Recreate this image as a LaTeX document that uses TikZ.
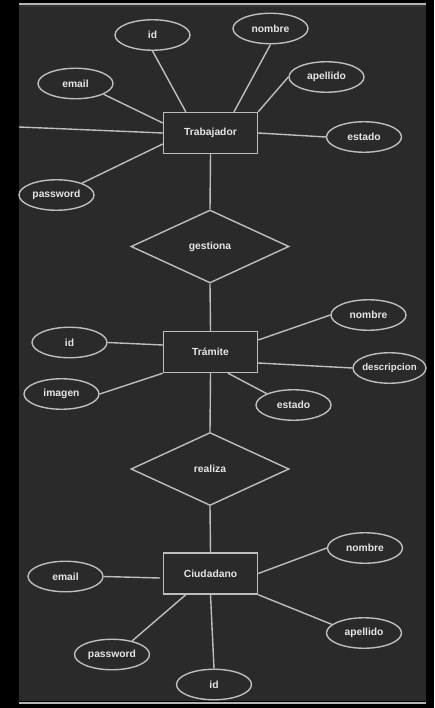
\documentclass[tikz,border=0pt]{standalone}
\usepackage{fontspec}
\setmainfont{Liberation Sans}
\usetikzlibrary{shapes.geometric,calc}
\definecolor{panel}{HTML}{2A2A2A}
\definecolor{edge}{HTML}{BEBEBE}
\definecolor{txt}{HTML}{E6E6E6}
\definecolor{rim}{HTML}{B4B4B4}
\begin{document}
\begin{tikzpicture}[x=1pt,y=-1pt,
  lbl/.style={text=txt,font=\fontsize{10.3}{12}\selectfont\bfseries},
  ent/.style={lbl,draw=edge,line width=1.4pt,rectangle,minimum width=94pt,minimum height=41pt,inner sep=0pt},
  attr/.style={lbl,draw=edge,line width=1.4pt,ellipse,minimum width=75pt,minimum height=30.5pt,inner sep=0pt},
  rel/.style={lbl,draw=edge,line width=1.4pt,diamond,minimum width=158pt,minimum height=73pt,inner sep=0pt},
  link/.style={draw=edge,line width=1.4pt}]
% background
\fill[black] (0,0) rectangle (434,708);
\fill[panel] (19,5) rectangle (426,701);
\fill[rim] (19,2.7) rectangle (426,5.3);
\fill[black!80] (19,5.3) rectangle (426,6.7);
\fill[rim] (19,701.7) rectangle (426,704.3);
\useasboundingbox (0,0) rectangle (434,708);

% Trabajador
\node[ent] (T) at (210.5,133) {Trabajador};
\node[attr] (tid) at (152.5,35) {id};
\node[attr] (tnom) at (270.5,28.5) {nombre};
\node[attr] (temail) at (75.5,83.5) {email};
\node[attr] (tape) at (326.5,77) {apellido};
\node[attr] (test) at (364,137) {estado};
\node[attr] (tpass) at (56.5,195) {password};
\coordinate (lft) at (19,127);

\draw[link] (tid.south) -- ($(T.north west)+(23,0)$);
\draw[link] (tnom.south) -- ($(T.north)+(23.5,0)$);
\draw[link] (tape.west) -- (T.north east);
\draw[link] (temail.-21) -- ($(T.west)+(0,-10)$);
\draw[link] (T.east) -- (test.west);
\draw[link] (tpass.25) -- ($(T.west)+(0,11)$);
\draw[link] (lft) -- (T.west);

% gestiona
\node[rel] (g) at (210,246.5) {gestiona};
\draw[link] (T.south) -- (g.north);

% Tramite
\node[ent] (R) at (210.5,352) {Trámite};
\draw[link] (g.south) -- (R.north);
\node[attr] (rnom) at (368.5,315) {nombre};
\node[attr] (rid) at (69.5,342.5) {id};
\node[attr,font=\fontsize{9.7}{12}\selectfont\bfseries,inner xsep=-9pt,minimum width=73pt] (rdes) at (389.5,368) {descripcion};
\node[attr] (rimg) at (61.5,394) {imagen};
\node[attr] (rest) at (293.5,405) {estado};

\draw[link] (rnom.west) -- ($(R.east)+(0,-12)$);
\draw[link] (rid.east) -- ($(R.west)+(0,-7)$);
\draw[link] ($(R.east)+(0,11)$) -- (rdes.west);
\draw[link] (rimg.east) -- (R.south west);
\draw[link] ($(R.south)+(17.5,0)$) -- (rest.157);

% realiza
\node[rel] (z) at (210,469) {realiza};
\draw[link] (R.south) -- (z.north);

% Ciudadano
\node[ent] (C) at (210.5,573.5) {Ciudadano};
\draw[link] (z.south) -- (C.north);
\node[attr] (cnom) at (365,548) {nombre};
\node[attr] (cemail) at (65.5,576.5) {email};
\node[attr] (cape) at (364,633) {apellido};
\node[attr] (cpass) at (112,654.5) {password};
\node[attr] (cid) at (214,684.5) {id};

\draw[link] (cnom.west) -- (C.east);
\draw[link] (cemail.east) -- ($(C.west)+(-3,4.5)$);
\draw[link] (C.south east) -- (cape.165);
\draw[link] ($(C.south west)+(23,0)$) -- (cpass.34);
\draw[link] (C.south) -- (cid.north);
\end{tikzpicture}
\end{document}
